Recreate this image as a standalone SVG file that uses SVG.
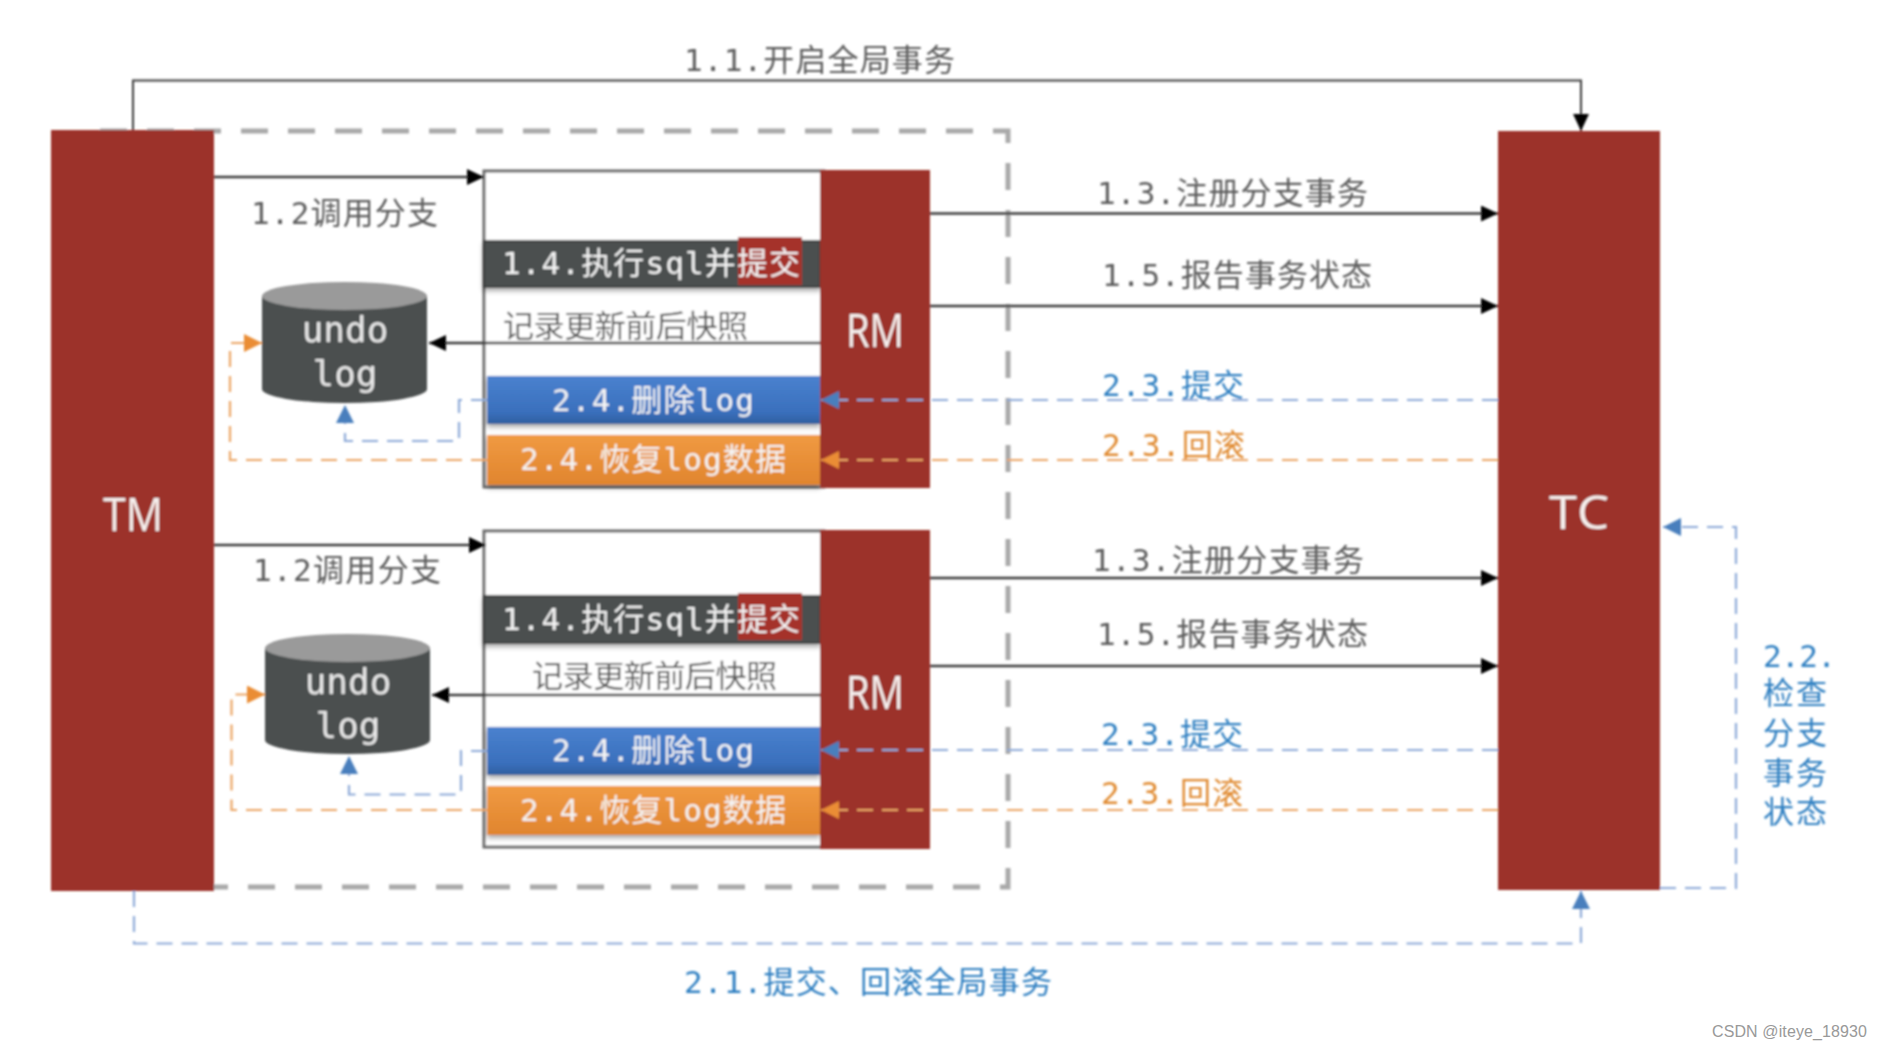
<svg xmlns="http://www.w3.org/2000/svg" width="1882" height="1050" viewBox="0 0 1882 1050">
<defs>
<style>
text{font-family:"DejaVu Sans Mono","Noto Sans CJK SC",monospace;dominant-baseline:central;font-size:31px}
.g{fill:#5c5c5c}.w{fill:#f4f4f4}.b{fill:#2f7fc1}.o{fill:#e08a30}
.big{font-family:"Open Sans","Noto Sans",sans-serif;font-size:46px;fill:#f6f0ee}
.cyl{font-size:36px;fill:#e8e8e8;text-anchor:middle}
.red{fill:#9c3329}.box{fill:#fff;stroke:#6a6a6a;stroke-width:3}
.c{fill:none}.k{stroke:#3a3a3a;stroke-width:2.5}.bd{stroke:#8eaad8;stroke-width:2.2;stroke-dasharray:16 9}.od{stroke:#eba565;stroke-width:2.2;stroke-dasharray:16 9}
.bar{stroke:#333;stroke-width:1.5}
</style>
<linearGradient id="bl" x1="0" y1="0" x2="0" y2="1"><stop offset="0" stop-color="#4a82cf"/><stop offset="0.75" stop-color="#3a70bd"/><stop offset="1" stop-color="#2f5f9f"/></linearGradient>
<linearGradient id="or" x1="0" y1="0" x2="0" y2="1"><stop offset="0" stop-color="#f09a42"/><stop offset="1" stop-color="#e0852e"/></linearGradient>
<filter id="soft" x="0" y="0" width="1882" height="1050" filterUnits="userSpaceOnUse" primitiveUnits="userSpaceOnUse"><feGaussianBlur stdDeviation="0.8"/></filter>
<filter id="sh" x="-5%" y="-20%" width="110%" height="150%"><feDropShadow dx="0" dy="3" stdDeviation="2.5" flood-color="#000" flood-opacity="0.35"/></filter>
<marker id="ak" markerUnits="userSpaceOnUse" markerWidth="18" markerHeight="16" refX="17" refY="8" orient="auto"><path d="M0 0L17 8L0 16Z" fill="#000"/></marker>
<marker id="ab" markerUnits="userSpaceOnUse" markerWidth="18" markerHeight="18" refX="18" refY="9" orient="auto"><path d="M0 0L18 9L0 18Z" fill="#4a7fbd"/></marker>
<marker id="ao" markerUnits="userSpaceOnUse" markerWidth="18" markerHeight="18" refX="18" refY="9" orient="auto"><path d="M0 0L18 9L0 18Z" fill="#ea8d35"/></marker>
</defs>
<rect width="1882" height="1050" fill="#fff"/>
<g filter="url(#soft)">
<path id="boundary" d="M100 131H1008V887H214" fill="none" stroke="#a9a9a9" stroke-width="5" stroke-dasharray="27 20"/>

<g id="branch1">
<rect class="box" x="484" y="171" width="340" height="316"/>
<rect class="bar" x="484" y="241" width="336" height="46" fill="#4b4f4f" filter="url(#sh)"/>
<rect x="738" y="237" width="64" height="48" fill="#a5322b"/>
<text class="w" x="502" y="263" textLength="298">1.4.执行sql并提交</text>
<text class="g" x="503" y="326" textLength="245">记录更新前后快照</text>
<rect x="487" y="376" width="333" height="48" fill="url(#bl)" filter="url(#sh)"/>
<text class="w" x="552" y="400" textLength="202">2.4.删除log</text>
<rect x="487" y="435" width="333" height="50" fill="url(#or)" filter="url(#sh)"/>
<text class="w" x="520" y="459" textLength="266">2.4.恢复log数据</text>
</g>
<g id="branch2">
<rect class="box" x="484" y="531" width="340" height="316"/>
<rect class="bar" x="484" y="596" width="336" height="47" fill="#4b4f4f" filter="url(#sh)"/>
<rect x="738" y="593" width="64" height="47" fill="#a5322b"/>
<text class="w" x="502" y="619" textLength="298">1.4.执行sql并提交</text>
<text class="g" x="532" y="676" textLength="245">记录更新前后快照</text>
<rect x="487" y="727" width="333" height="48" fill="url(#bl)" filter="url(#sh)"/>
<text class="w" x="552" y="750" textLength="202">2.4.删除log</text>
<rect x="487" y="786" width="333" height="49" fill="url(#or)" filter="url(#sh)"/>
<text class="w" x="520" y="810" textLength="266">2.4.恢复log数据</text>
</g>
<g id="TM"><rect class="red" x="51" y="130" width="163" height="761"/><text class="big" x="103" y="513" textLength="60" lengthAdjust="spacingAndGlyphs">TM</text></g>
<g id="TC"><rect class="red" x="1498" y="131" width="162" height="759"/><text class="big" x="1549" y="511" textLength="60" lengthAdjust="spacingAndGlyphs">TC</text></g>
<g id="RM1"><rect class="red" x="820" y="170" width="110" height="318"/><text class="big" x="846" y="329" textLength="58" lengthAdjust="spacingAndGlyphs">RM</text></g>
<g id="RM2"><rect class="red" x="820" y="530" width="110" height="319"/><text class="big" x="846" y="691" textLength="58" lengthAdjust="spacingAndGlyphs">RM</text></g>
<g id="undo1">
<path d="M262 296V389A82.500 14 0 0 0 427 389V296Z" fill="#4b4f4f"/>
<ellipse cx="344.500" cy="296" rx="82.500" ry="14" fill="#9a9a9a"/>
<text class="cyl" x="345" y="329">undo</text><text class="cyl" x="345" y="373">log</text>
</g>
<g id="undo2">
<path d="M265 648V740A82.500 14 0 0 0 430 740V648Z" fill="#4b4f4f"/>
<ellipse cx="347.500" cy="648" rx="82.500" ry="14" fill="#9a9a9a"/>
<text class="cyl" x="348" y="681">undo</text><text class="cyl" x="348" y="725">log</text>
</g>
<g id="connectors">
<path class="c k" d="M133 130V80.500H1581V131" marker-end="url(#ak)" style="stroke-width:2"/>
<path class="c k" d="M214 177H484" marker-end="url(#ak)"/>
<path class="c k" d="M214 545H486" marker-end="url(#ak)"/>
<path class="c k" d="M930 213.500H1498" marker-end="url(#ak)"/>
<path class="c k" d="M930 306H1498" marker-end="url(#ak)"/>
<path class="c k" d="M930 578H1498" marker-end="url(#ak)"/>
<path class="c k" d="M930 666H1498" marker-end="url(#ak)"/>
<path class="c k" d="M820 343H429" marker-end="url(#ak)"/>
<path class="c k" d="M820 695H432" marker-end="url(#ak)"/>
<path class="c bd" d="M1498 400H821" marker-end="url(#ab)"/>
<path class="c od" d="M1498 460H821" marker-end="url(#ao)"/>
<path class="c bd" d="M1498 750H821" marker-end="url(#ab)"/>
<path class="c od" d="M1498 810H821" marker-end="url(#ao)"/>
<path class="c bd" d="M487 400H459V441H345V405" marker-end="url(#ab)"/>
<path class="c od" d="M487 460H230V343H262" marker-end="url(#ao)"/>
<path class="c bd" d="M487 751H461V794.500H349V756" marker-end="url(#ab)"/>
<path class="c od" d="M487 810H231.500V694.500H265" marker-end="url(#ao)"/>
<path class="c bd" d="M134 891V943.500H1581V891" marker-end="url(#ab)"/>
<path class="c bd" d="M1660 888H1736V527H1663" marker-end="url(#ab)"/>
</g>
<g id="labels">
<text class="g" x="684" y="60" textLength="271">1.1.开启全局事务</text>
<text class="g" x="251" y="213" textLength="187">1.2调用分支</text>
<text class="g" x="253" y="570" textLength="188">1.2调用分支</text>
<text class="g" x="1097" y="193" textLength="271">1.3.注册分支事务</text>
<text class="g" x="1102" y="275" textLength="270">1.5.报告事务状态</text>
<text class="b" x="1102" y="385" textLength="142">2.3.提交</text>
<text class="o" x="1102" y="445" textLength="143">2.3.回滚</text>
<text class="g" x="1092" y="560" textLength="272">1.3.注册分支事务</text>
<text class="g" x="1097" y="634" textLength="271">1.5.报告事务状态</text>
<text class="b" x="1101" y="734" textLength="142">2.3.提交</text>
<text class="o" x="1101" y="793" textLength="142">2.3.回滚</text>
<text class="b" x="684" y="982" textLength="368">2.1.提交、回滚全局事务</text>
<text class="b" x="1763" y="656" textLength="73">2.2.</text>
<text class="b" x="1763" y="693" textLength="64">检查</text>
<text class="b" x="1763" y="733" textLength="64">分支</text>
<text class="b" x="1763" y="773" textLength="64">事务</text>
<text class="b" x="1763" y="812" textLength="64">状态</text>
</g>
</g>
<text x="1712" y="1031" style="font-family:'Liberation Sans',sans-serif;font-size:16px;fill:#999" textLength="155">CSDN @iteye_18930</text>
</svg>
